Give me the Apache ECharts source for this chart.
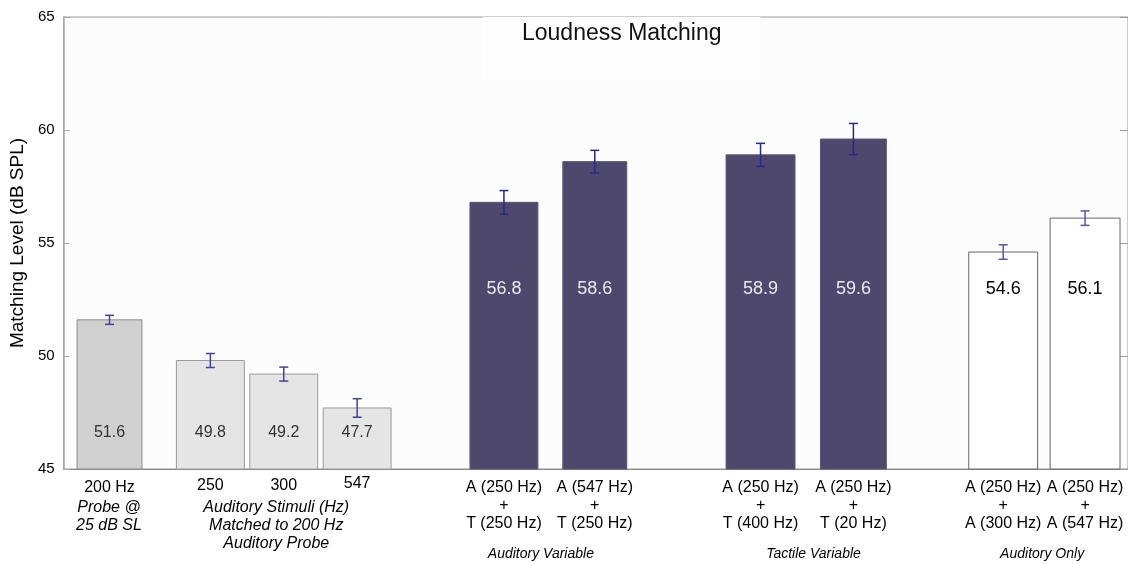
<!DOCTYPE html>
<html>
<head>
<meta charset="utf-8">
<script src="https://cdn.jsdelivr.net/npm/echarts@6/dist/echarts.min.js"></script>
<style>html,body{margin:0;padding:0;background:#fff}#c{width:1128px;height:563px}</style>
</head>
<body>
<div id="c"></div>
<script>
// ---------- DATA ----------
var title = 'Loudness Matching';
var yAxisName = 'Matching Level (dB SPL)';
var yTicks = [45, 50, 55, 60, 65];
var categories = ['200 Hz', '250', '300', '547',
  'A (250 Hz)\n+\nT (250 Hz)', 'A (547 Hz)\n+\nT (250 Hz)',
  'A (250 Hz)\n+\nT (400 Hz)', 'A (250 Hz)\n+\nT (20 Hz)',
  'A (250 Hz)\n+\nA (300 Hz)', 'A (250 Hz)\n+\nA (547 Hz)'];
var values = [51.6, 49.8, 49.2, 47.7, 56.8, 58.6, 58.9, 59.6, 54.6, 56.1];
var errors = [0.2, 0.31, 0.31, 0.41, 0.52, 0.5, 0.51, 0.69, 0.32, 0.32];
var groupLabels = ['Probe @\n25 dB SL', 'Auditory Stimuli (Hz)\nMatched to 200 Hz\nAuditory Probe',
  'Auditory Variable', 'Tactile Variable', 'Auditory Only'];

// ---------- LAYOUT / STYLE ----------
var barCenters = [46, 147, 220.5, 294, 441, 532, 698, 791, 941, 1023];
var barWidths = [65, 68, 68, 68, 68, 64, 69, 66, 69, 70];
var barKind = [0, 1, 1, 1, 2, 2, 2, 2, 3, 3];
var kindFill = ['#d0d0d0', '#e5e5e5', '#4e496c', '#ffffff'];
var kindStroke = ['#8e8e8e', '#9a9a9a', '#5a5577', '#666666'];
var kindErr = ['#46429c', '#46429c', '#2a288a', '#5a56aa'];
var kindLabelColor = ['#333333', '#333333', '#e8e8f0', '#000000'];
var kindLabelFont = ['16px ', '16px ', '18px ', '18px '];
var kindLabelY = [46.6, 46.6, 52.95, 52.95];
var catLabelTop = [478, 476, 476, 474, 478, 478, 478, 478, 478, 478];
var groupCenters = [45.5, 213, 478, 751, 980];
var groupTop = [499, 499, 545, 545, 545];
var groupFont = ['16px ', '16px ', '14px ', '14px ', '14px '];
var FONT = '"Liberation Sans", Arial, sans-serif';

var chart = echarts.init(document.getElementById('c'));

var barSeriesData = values.map(function (v, i) { return [barCenters[i], v, i]; });
var groupData = groupLabels.map(function (g, i) { return [groupCenters[i], 45, i]; });

chart.setOption({
  backgroundColor: '#ffffff',
  animation: false,
  title: {
    text: title,
    left: 483, top: 17,
    backgroundColor: '#fefefe',
    padding: [5, 39, 35, 39],
    textStyle: { fontFamily: FONT, fontSize: 23, fontWeight: 'normal', color: '#111' }
  },
  grid: {
    left: 62, right: 0, top: 17, bottom: 94,
    show: true, backgroundColor: '#fcfcfc', borderColor: '#9a9a9a', borderWidth: 1
  },
  xAxis: {
    type: 'value', min: 0, max: 1066,
    axisLine: { show: true, lineStyle: { color: '#888' } },
    axisTick: { show: false }, axisLabel: { show: false }, splitLine: { show: false }
  },
  yAxis: [{
    type: 'value', min: yTicks[0], max: yTicks[yTicks.length - 1], interval: 5,
    name: yAxisName, nameLocation: 'middle', nameGap: 35,
    nameTextStyle: { fontFamily: FONT, fontSize: 19, color: '#000' },
    axisLine: { show: true, lineStyle: { color: '#aaaaaa', width: 1.5 } },
    axisTick: { show: true, inside: true, length: 6, lineStyle: { color: '#aaaaaa' } },
    axisLabel: { fontFamily: FONT, fontSize: 15, color: '#000', margin: 9 },
    splitLine: { show: false }
  }, {
    type: 'value', position: 'right', min: yTicks[0], max: yTicks[yTicks.length - 1], interval: 5,
    axisLine: { show: false },
    axisTick: { show: true, inside: true, length: 8, lineStyle: { color: '#999' } },
    axisLabel: { show: false }, splitLine: { show: false }
  }],
  series: [{
    type: 'custom',
    data: barSeriesData,
    renderItem: function (params, api) {
      var i = api.value(2);
      var k = barKind[i];
      var x = api.value(0), v = api.value(1);
      var p0 = api.coord([x, 45]);
      var p1 = api.coord([x, v]);
      var unit = api.size([1, 0])[0];
      var w = barWidths[i] * unit;
      var e = errors[i];
      var eTop = api.coord([x, v + e]), eBot = api.coord([x, v - e]);
      var lab = api.coord([x, kindLabelY[k]]);
      var cap = 4.5;
      var children = [
        { type: 'rect', shape: { x: p0[0] - w / 2, y: p1[1], width: w, height: p0[1] - p1[1] },
          style: { fill: kindFill[k], stroke: kindStroke[k], lineWidth: 1 } },
        { type: 'line', shape: { x1: eTop[0], y1: eTop[1], x2: eBot[0], y2: eBot[1] },
          style: { stroke: kindErr[k], lineWidth: 1.5 } },
        { type: 'line', shape: { x1: eTop[0] - cap, y1: eTop[1], x2: eTop[0] + cap, y2: eTop[1] },
          style: { stroke: kindErr[k], lineWidth: 1.5 } },
        { type: 'line', shape: { x1: eBot[0] - cap, y1: eBot[1], x2: eBot[0] + cap, y2: eBot[1] },
          style: { stroke: kindErr[k], lineWidth: 1.5 } },
        { type: 'text', x: lab[0], y: lab[1],
          style: { text: values[i].toFixed(1), align: 'center', verticalAlign: 'middle',
            font: kindLabelFont[k] + FONT,
            fill: kindLabelColor[k],
            backgroundColor: k === 3 ? '#ffffff' : null,
            padding: k === 3 ? [9, 5, 9, 5] : 0 } },
        { type: 'text', x: p0[0], y: catLabelTop[i],
          style: { text: categories[i], align: 'center', verticalAlign: 'top',
            font: '16px ' + FONT, fill: '#000', lineHeight: 18.3 } }
      ];
      return { type: 'group', children: children };
    },
    z: 3
  }, {
    type: 'custom',
    data: groupData,
    renderItem: function (params, api) {
      var i = api.value(2);
      var p = api.coord([api.value(0), 45]);
      return { type: 'text', x: p[0], y: groupTop[i],
        style: { text: groupLabels[i], align: 'center', verticalAlign: 'top',
          font: 'italic ' + groupFont[i] + FONT, fill: '#000', lineHeight: 18 } };
    },
    z: 3
  }]
});
</script>
</body>
</html>
